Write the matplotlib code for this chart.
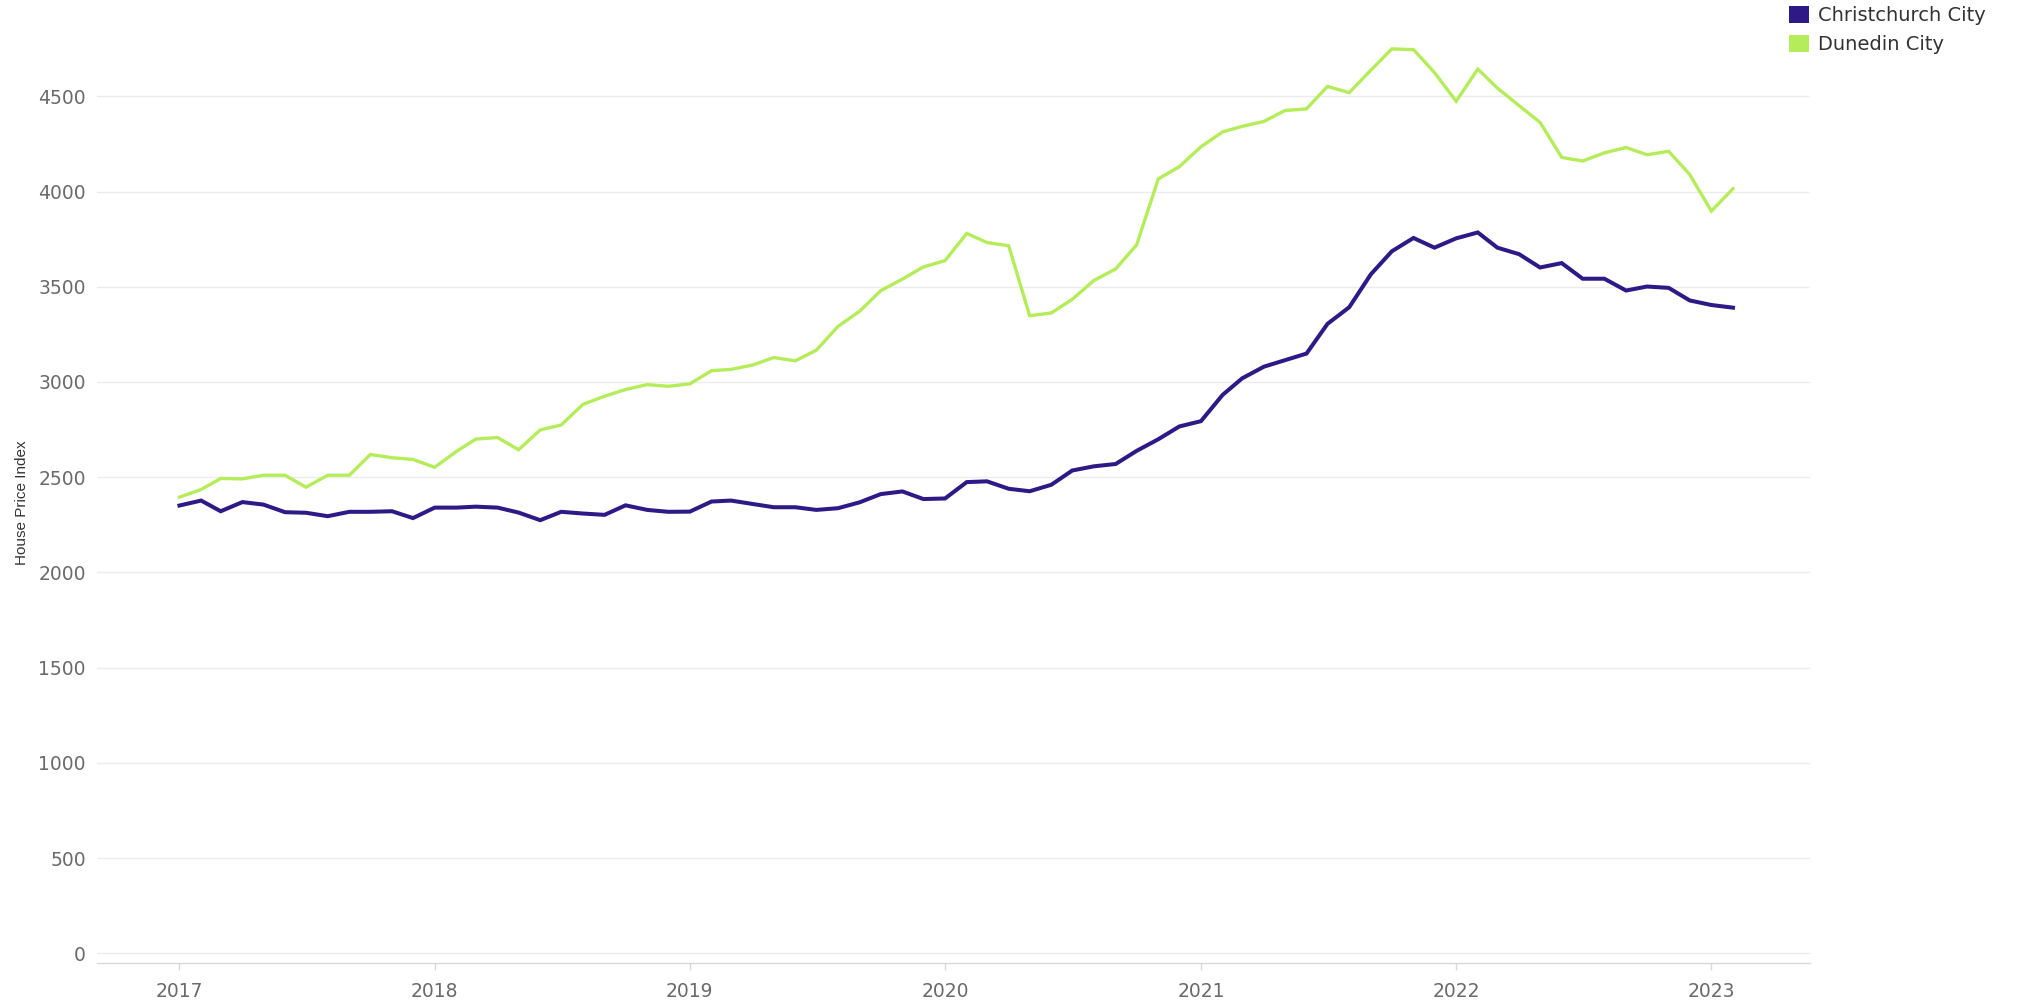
"""
House price index: Christchurch City vs Dunedin City, monthly 2017-2023
"""

import matplotlib
matplotlib.use("Agg")
import matplotlib.pyplot as plt
import matplotlib.dates as mdates
from matplotlib.patches import Patch
import pandas as pd

# monthly series, Jan 2017 .. Feb 2023
months = pd.date_range("2017-01-01", "2023-02-01", freq="MS")

christchurch = [
    2351, 2377, 2321, 2369, 2356, 2316, 2313, 2295, 2318, 2318, 2321, 2285,
    2340, 2340, 2345, 2340, 2314, 2274, 2318, 2309, 2302, 2352, 2328, 2318,
    2319, 2372, 2377, 2359, 2342, 2342, 2328, 2337, 2368, 2411, 2425, 2385,
    2388, 2474, 2478, 2439, 2426, 2460, 2535, 2557, 2569, 2638, 2699, 2766,
    2794, 2932, 3019, 3080, 3114, 3149, 3305, 3392, 3565, 3686, 3756, 3705,
    3754, 3785, 3705, 3671, 3601, 3624, 3542, 3542, 3480, 3501, 3494, 3428,
    3404, 3390,
]
dunedin = [
    2395, 2435, 2493, 2491, 2510, 2510, 2447, 2510, 2510, 2619, 2602, 2593,
    2552, 2635, 2700, 2708, 2644, 2748, 2774, 2882, 2925, 2960, 2986, 2977,
    2990, 3059, 3066, 3089, 3128, 3111, 3167, 3292, 3372, 3479, 3540, 3604,
    3637, 3780, 3732, 3715, 3348, 3362, 3434, 3533, 3593, 3720, 4066, 4130,
    4235, 4313, 4342, 4368, 4425, 4434, 4552, 4519, 4637, 4749, 4745, 4625,
    4474, 4643, 4543, 4451, 4363, 4179, 4160, 4203, 4231, 4193, 4211, 4090,
    3897, 4015,
]

series_names = ["Christchurch City", "Dunedin City"]
series_colors = ["#2e1a87", "#b5ec5a"]
y_ticks = [0, 500, 1000, 1500, 2000, 2500, 3000, 3500, 4000, 4500]

fig = plt.figure(figsize=(20.2, 10.06), dpi=100)
ax = fig.add_axes([0.048, 0.043, 0.848, 0.937])

ax.plot(months, christchurch, color=series_colors[0], lw=2.9, zorder=3,
        solid_joinstyle="miter")
ax.plot(months, dunedin, color=series_colors[1], lw=2.4, zorder=3,
        solid_joinstyle="miter")

ax.set_xlim(pd.Timestamp("2016-09-05"), pd.Timestamp("2023-05-22"))
ax.set_ylim(-50, 4900)
ax.set_yticks(y_ticks)
ax.xaxis.set_major_locator(mdates.YearLocator())
ax.xaxis.set_major_formatter(mdates.DateFormatter("%Y"))

ax.grid(axis="y", color="#ececec", lw=1)
ax.set_axisbelow(True)
for side in ["top", "right", "left"]:
    ax.spines[side].set_visible(False)
ax.spines["bottom"].set_color("#d8d8d8")
ax.spines["bottom"].set_linewidth(1)

ax.tick_params(axis="y", length=0, pad=8, labelsize=13.5, labelcolor="#6a6a6a")
ax.tick_params(axis="x", length=5, width=1, color="#d8d8d8", pad=9,
               labelsize=13.5, labelcolor="#6a6a6a")

fig.text(0.011, 0.5, "House Price Index", rotation=90, va="center", ha="center",
         fontsize=11, color="#333333",
         family=["Liberation Sans Narrow", "Liberation Sans"])

handles = [Patch(facecolor=c, edgecolor="none") for c in series_colors]
fig.legend(handles, series_names, loc="upper left",
           bbox_to_anchor=(0.881, 1.004), frameon=False, fontsize=14,
           handlelength=1.0, handleheight=1.0, handletextpad=0.45,
           labelspacing=0.5, borderpad=0.0, labelcolor="#333333")

fig.savefig("out.png", dpi=100, facecolor="white")
